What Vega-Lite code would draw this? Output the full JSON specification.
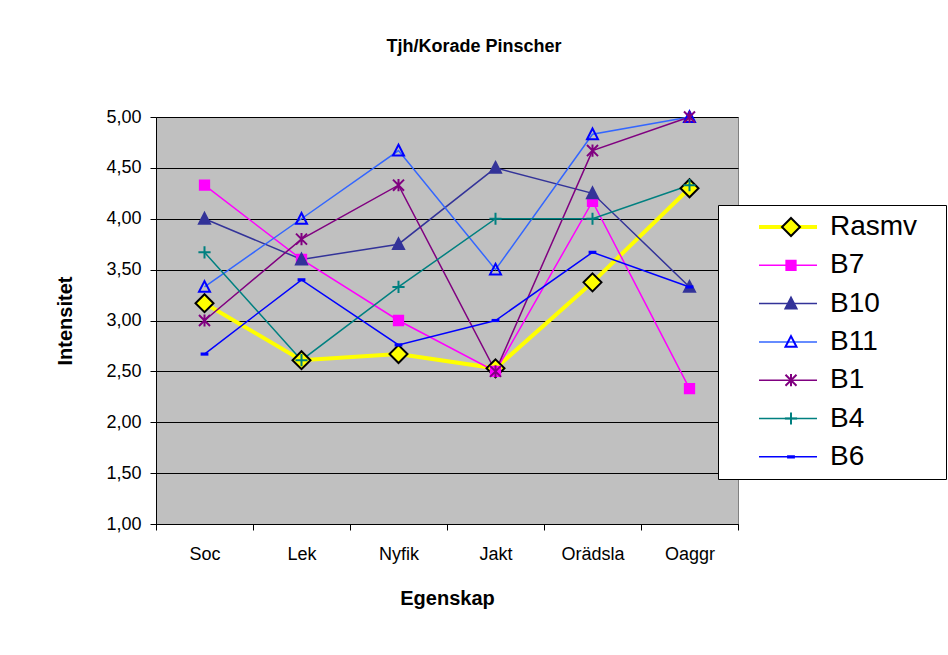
{
  "$schema": "https://vega.github.io/schema/vega-lite/v6.json",
  "width": 582,
  "height": 407,
  "autosize": {"type": "none"},
  "padding": {"left": 156, "top": 117, "right": 210, "bottom": 131},
  "background": "white",
  "title": {"text": "Tjh/Korade Pinscher", "fontSize": 18, "fontWeight": "bold", "font": "Liberation Sans", "anchor": "middle", "dx": 27, "offset": 51, "color": "black"},
  "config": {
    "locale": {"number": {"decimal": ",", "thousands": " ", "grouping": [3], "currency": ["", " kr"]}},
    "view": {"fill": "#C0C0C0", "stroke": "#808080", "strokeWidth": 1},
    "font": "Liberation Sans",
    "axis": {"labelFont": "Liberation Sans", "titleFont": "Liberation Sans", "labelColor": "black", "titleColor": "black", "domainColor": "black", "tickColor": "black"}
  },
  "data": {"values": [
    {"series": "Rasmv", "trait": "Soc", "value": 3.17},
    {"series": "Rasmv", "trait": "Lek", "value": 2.61},
    {"series": "Rasmv", "trait": "Nyfik", "value": 2.67},
    {"series": "Rasmv", "trait": "Jakt", "value": 2.53},
    {"series": "Rasmv", "trait": "Orädsla", "value": 3.375},
    {"series": "Rasmv", "trait": "Oaggr", "value": 4.3},
    {"series": "B7", "trait": "Soc", "value": 4.33},
    {"series": "B7", "trait": "Lek", "value": 3.6},
    {"series": "B7", "trait": "Nyfik", "value": 3.0},
    {"series": "B7", "trait": "Jakt", "value": 2.5},
    {"series": "B7", "trait": "Orädsla", "value": 4.17},
    {"series": "B7", "trait": "Oaggr", "value": 2.33},
    {"series": "B10", "trait": "Soc", "value": 4.0},
    {"series": "B10", "trait": "Lek", "value": 3.6},
    {"series": "B10", "trait": "Nyfik", "value": 3.75},
    {"series": "B10", "trait": "Jakt", "value": 4.5},
    {"series": "B10", "trait": "Orädsla", "value": 4.25},
    {"series": "B10", "trait": "Oaggr", "value": 3.33},
    {"series": "B11", "trait": "Soc", "value": 3.33},
    {"series": "B11", "trait": "Lek", "value": 4.0},
    {"series": "B11", "trait": "Nyfik", "value": 4.67},
    {"series": "B11", "trait": "Jakt", "value": 3.5},
    {"series": "B11", "trait": "Orädsla", "value": 4.83},
    {"series": "B11", "trait": "Oaggr", "value": 5.0},
    {"series": "B1", "trait": "Soc", "value": 3.0},
    {"series": "B1", "trait": "Lek", "value": 3.8},
    {"series": "B1", "trait": "Nyfik", "value": 4.33},
    {"series": "B1", "trait": "Jakt", "value": 2.5},
    {"series": "B1", "trait": "Orädsla", "value": 4.67},
    {"series": "B1", "trait": "Oaggr", "value": 5.0},
    {"series": "B4", "trait": "Soc", "value": 3.67},
    {"series": "B4", "trait": "Lek", "value": 2.61},
    {"series": "B4", "trait": "Nyfik", "value": 3.33},
    {"series": "B4", "trait": "Jakt", "value": 4.0},
    {"series": "B4", "trait": "Orädsla", "value": 4.0},
    {"series": "B4", "trait": "Oaggr", "value": 4.33},
    {"series": "B6", "trait": "Soc", "value": 2.67},
    {"series": "B6", "trait": "Lek", "value": 3.4},
    {"series": "B6", "trait": "Nyfik", "value": 2.76},
    {"series": "B6", "trait": "Jakt", "value": 3.0},
    {"series": "B6", "trait": "Orädsla", "value": 3.67},
    {"series": "B6", "trait": "Oaggr", "value": 3.33}
  ]},
  "layer": [
    {
      "mark": {"type": "line", "clip": false},
      "encoding": {
        "x": {"field": "trait", "type": "nominal", "sort": ["Soc", "Lek", "Nyfik", "Jakt", "Orädsla", "Oaggr"],
              "scale": {"type": "band", "paddingInner": 0, "paddingOuter": 0},
              "axis": {"title": "Egenskap", "titleFontSize": 20, "titleFontWeight": "bold", "labelFontSize": 18, "labelAngle": 0, "tickBand": "extent", "tickSize": 6, "labelPadding": 15, "titlePadding": 25, "grid": false}},
        "y": {"field": "value", "type": "quantitative", "scale": {"domain": [1, 5], "nice": false, "zero": false},
              "axis": {"title": "Intensitet", "titleFontSize": 20, "titleFontWeight": "bold", "values": [1, 1.5, 2, 2.5, 3, 3.5, 4, 4.5, 5], "format": ".2f", "labelFontSize": 18, "tickSize": 6, "labelPadding": 9, "titlePadding": 30, "grid": true, "gridColor": "black", "gridOpacity": 1}},
        "color": {"field": "series", "type": "nominal",
                  "scale": {"domain": ["B1", "B10", "B11", "B4", "B6", "B7", "Rasmv"], "range": ["#800080", "#333399", "#3366FF", "#008080", "#0000FF", "#FF00FF", "#FFFF00"]},
                  "legend": {"orient": "none", "legendX": 562, "legendY": 88, "title": null,
                             "values": ["Rasmv", "B7", "B10", "B11", "B1", "B4", "B6"],
                             "symbolType": "stroke", "symbolSize": 3364, "symbolStrokeWidth": 2,
                             "clipHeight": 36, "rowPadding": 2.3, "padding": 4,
                             "labelFontSize": 28, "labelFont": "Liberation Sans", "labelOpacity": 0,
                             "labelExpr": "''",
                             "symbolOffset": 52, "labelOffset": 140,
                             "strokeColor": "black", "fillColor": "white",
                             "encode": {"symbols": {"update": {"strokeWidth": {"signal": "datum.value === 'Rasmv' ? 4 : 1.5"}}}}}},
        "strokeWidth": {"condition": {"test": "datum.series === 'Rasmv'", "value": 4}, "value": 1.5}
      }
    },
    {
      "mark": {"type": "point", "filled": true, "opacity": 1, "size": 3364, "strokeWidth": 2, "clip": false},
      "encoding": {
        "x": {"field": "trait", "type": "nominal", "sort": ["Soc", "Lek", "Nyfik", "Jakt", "Orädsla", "Oaggr"]},
        "y": {"field": "value", "type": "quantitative"},
        "shape": {"field": "series", "type": "nominal",
                  "scale": {"domain": ["Rasmv", "B7", "B10", "B11", "B1", "B4", "B6"],
                            "range": ["M0,-0.31L0.31,0L0,0.31L-0.31,0Z", "M-0.16,-0.16L0.16,-0.16L0.16,0.16L-0.16,0.16Z", "M0,-0.2L0.19,0.17L-0.19,0.17Z", "M0,-0.2L0.19,0.17L-0.19,0.17Z", "M0,-0.21L0,0.21M-0.19,-0.19L0.19,0.19M-0.19,0.19L0.19,-0.19", "M-0.21,0L0.21,0M0,-0.21L0,0.21", "M-0.1,-0.02L0.1,-0.02L0.1,0.02L-0.1,0.02Z"]},
                  "legend": {"orient": "none", "legendX": 562, "legendY": 88, "title": null,
                             "symbolSize": 3364, "symbolStrokeWidth": 2,
                             "clipHeight": 36, "rowPadding": 2.3, "padding": 4,
                             "labelFontSize": 28, "labelFont": "Liberation Sans", "labelColor": "black",
                             "symbolOffset": 39, "labelOffset": 9}},
        "fill": {"field": "series", "type": "nominal",
                 "scale": {"domain": ["Rasmv", "B7", "B10", "B11", "B1", "B4", "B6"],
                           "range": ["#FFFF00", "#FF00FF", "#333399", "transparent", "transparent", "transparent", "#0000FF"]},
                 "legend": {"orient": "none", "legendX": 562, "legendY": 88, "title": null,
                             "symbolSize": 3364, "symbolStrokeWidth": 2,
                             "clipHeight": 36, "rowPadding": 2.3, "padding": 4,
                             "labelFontSize": 28, "labelFont": "Liberation Sans", "labelColor": "black",
                             "symbolOffset": 39, "labelOffset": 9}},
        "stroke": {"field": "series", "type": "nominal",
                   "scale": {"domain": ["Rasmv", "B7", "B10", "B11", "B1", "B4", "B6"],
                             "range": ["#000000", "#FF00FF", "#333399", "#0000FF", "#800080", "#008080", "#0000FF"]},
                   "legend": {"orient": "none", "legendX": 562, "legendY": 88, "title": null,
                             "symbolSize": 3364, "symbolStrokeWidth": 2,
                             "clipHeight": 36, "rowPadding": 2.3, "padding": 4,
                             "labelFontSize": 28, "labelFont": "Liberation Sans", "labelColor": "black",
                             "symbolOffset": 39, "labelOffset": 9}}
      }
    }
  ]
}
